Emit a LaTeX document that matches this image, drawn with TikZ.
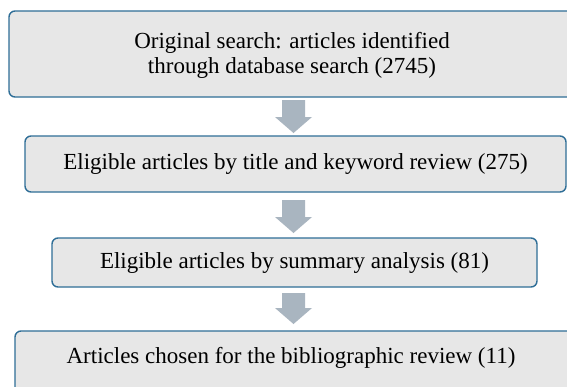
\documentclass[tikz,border=0pt]{standalone}
\usepackage{fontspec}
\setmainfont{Liberation Serif}
\definecolor{boxfill}{HTML}{E7E7E7}
\definecolor{boxline}{HTML}{2F6E97}
\definecolor{arrowfill}{HTML}{A9B5C0}
\tikzset{
  stagebox/.style={draw=boxline, line width=1.4pt, fill=boxfill, rounded corners=6pt,
    inner sep=0pt, align=center, font=\fontsize{23}{25}\selectfont},
  stagetext/.style={inner sep=0pt, align=center, font=\fontsize{23}{25}\selectfont},
  blockarrow/.style={fill=arrowfill, draw=none}
}
\newcommand{\flowarrow}[3]{% name, top y, tip y
  \coordinate (#1-top) at (293.5,#2);
  \coordinate (#1-tip) at (293.5,#3);
  \path[blockarrow] ($(#1-top)+(-11.5,0)$) -- ($(#1-top)+(11.5,0)$)
    -- ($(#1-tip)+(11.5,-16)$) -- ($(#1-tip)+(18.5,-16)$) -- (#1-tip)
    -- ($(#1-tip)+(-18.5,-16)$) -- ($(#1-tip)+(-11.5,-16)$) -- cycle;
}
\usetikzlibrary{calc}
\begin{document}
\begin{tikzpicture}[x=1pt,y=-1pt]
\useasboundingbox (0,0) rectangle (567,386);
\clip (0,0) rectangle (567,386);
\fill[white] (0,0) rectangle (567,386);
\node[stagebox, minimum width=611pt, minimum height=86pt] (b1) at (314.5,54) {};
\node[stagetext] (t1) at (292,55)
  {Original search: articles identified\\through database search (2745)};
\node[stagebox, minimum width=541pt, minimum height=56pt] (b2) at (295.5,164)
  {Eligible articles by title and keyword review (275)};
\node[stagebox, minimum width=485pt, minimum height=49pt] (b3) at (294.5,262.5)
  {Eligible articles by summary analysis (81)};
\node[stagebox, minimum width=605pt, minimum height=90pt] (b4) at (317.5,376) {};
\node[stagetext] (t4) at (291,358)
  {Articles chosen for the bibliographic review (11)};
\flowarrow{a1}{100}{133}
\flowarrow{a2}{200}{233}
\flowarrow{a3}{293}{324}
\end{tikzpicture}
\end{document}
